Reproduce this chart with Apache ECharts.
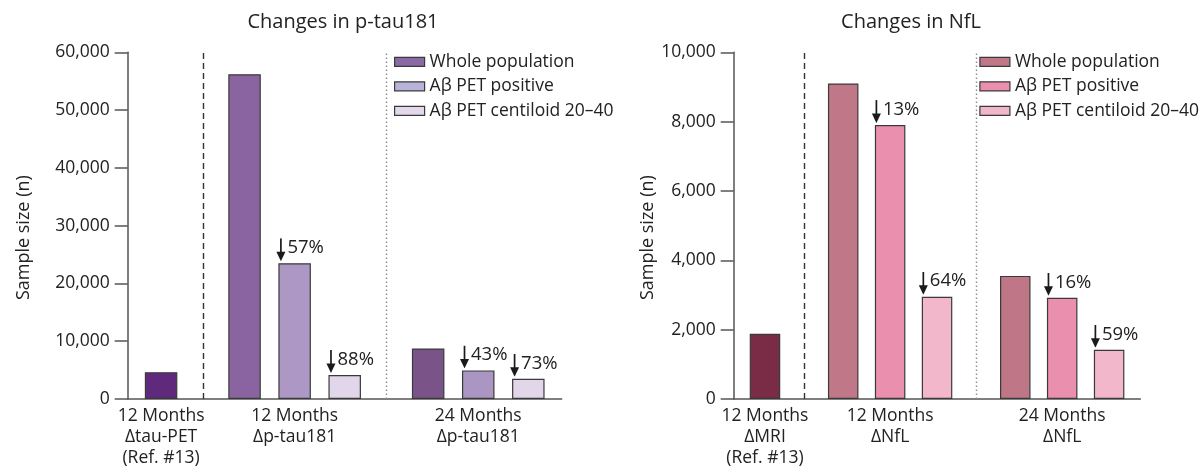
<!DOCTYPE html>
<html>
<head>
<meta charset="utf-8">
<script src="https://cdn.jsdelivr.net/npm/echarts/dist/echarts.min.js"></script>
<style>
html,body{margin:0;padding:0;background:#ffffff;}
#chart{width:1199px;height:472px;}
</style>
</head>
<body>
<div id="chart"></div>
<script>
// ---------------- data ----------------
const leftTitle = 'Changes in p-tau181';
const rightTitle = 'Changes in NfL';
const yAxisName = 'Sample size (n)';
const legendNames = ['Whole population', 'Aβ PET positive', 'Aβ PET centiloid 20–40'];

const leftGroupLabels = ['12 Months\nΔtau-PET\n(Ref. #13)', '12 Months\nΔp-tau181', '24 Months\nΔp-tau181'];
const leftReference = [4650];
const leftWhole = [56200, 8750];
const leftPositive = [23500, 4950];
const leftCentiloid = [4150, 3500];
const leftPositiveDrop = ['57%', '43%'];
const leftCentiloidDrop = ['88%', '73%'];
const leftAxisMax = 60000;
const leftAxisStep = 10000;

const rightGroupLabels = ['12 Months\nΔMRI\n(Ref. #13)', '12 Months\nΔNfL', '24 Months\nΔNfL'];
const rightReference = [1880];
const rightWhole = [9100, 3550];
const rightPositive = [7900, 2920];
const rightCentiloid = [2950, 1420];
const rightPositiveDrop = ['13%', '16%'];
const rightCentiloidDrop = ['64%', '59%'];
const rightAxisMax = 10000;
const rightAxisStep = 2000;

// ---------------- styling / layout ----------------
const FONT = "'Open Sans', 'Noto Sans', sans-serif";
const TEXT = '#222222';
const AXIS = '#555555';
const BORDER = '#3a3a3a';

const SLOT_COUNT = 27;          // fine category slots along each x axis
const REF_SLOT = 2;
const GROUP_SLOTS = [[7, 10, 13], [18, 21, 24]];
const LABEL_SLOTS = [2, 10, 21];
const SEP_NAMES = ['s4', 's15']; // on the half-offset helper axis

const leftStyle = {
  refColor: '#5f2a7c',
  wholeColors: ['#8a64a0', '#7a5489'],
  posColors: ['#ad98c5', '#ab96c3'],
  centColors: ['#e1d6ea', '#e1d6ea'],
  legendColors: ['#8a6aa6', '#b8b4d9', '#e4d8ec'],
  barWidth: 32.5
};
const rightStyle = {
  refColor: '#7a2b45',
  wholeColors: ['#c07889', '#bf7788'],
  posColors: ['#ea90ae', '#ea8fad'],
  centColors: ['#f2b7cb', '#f2b7cb'],
  legendColors: ['#c07888', '#ea8fae', '#f2b6cb'],
  barWidth: 30.5
};

const arrowUrl = 'data:image/svg+xml;charset=utf-8,' + encodeURIComponent(
  '<svg xmlns="http://www.w3.org/2000/svg" width="11" height="23" viewBox="0 0 11 23">' +
  '<line x1="5.5" y1="0" x2="5.5" y2="15" stroke="#1a1a1a" stroke-width="1.7"/>' +
  '<polygon points="1,13.5 10,13.5 5.5,23" fill="#1a1a1a"/></svg>');

function blank(n) { return Array.from({length: n}, () => '-'); }
function slotNames(prefix, n) { return Array.from({length: n}, (_, i) => prefix + i); }

function render(arrowImg) {
  const chart = echarts.init(document.getElementById('chart'), null, {renderer: 'canvas'});

  function dropLabel(text) {
    return {
      show: true, position: 'top', distance: 2, offset: [5, 0],
      formatter: '{a|}{t|' + text + '}',
      rich: {
        a: {width: 11, height: 23, backgroundColor: {image: arrowImg}},
        t: {fontFamily: FONT, fontSize: 18.5, color: TEXT, verticalAlign: 'top', lineHeight: 21, padding: [0, 0, 0, 1]}
      }
    };
  }

  function panelSeries(idx, st, reference, whole, positive, centiloid, posDrop, centDrop) {
    const xMain = idx * 2, xSep = idx * 2 + 1;
    const common = {
      type: 'bar', xAxisIndex: xMain, yAxisIndex: idx, barWidth: st.barWidth, barGap: '-100%',
      silent: true, animation: false
    };
    const ref = blank(SLOT_COUNT);
    ref[REF_SLOT] = {value: reference[0], itemStyle: {color: st.refColor}};
    const w = blank(SLOT_COUNT), p = blank(SLOT_COUNT), c = blank(SLOT_COUNT);
    GROUP_SLOTS.forEach((slots, g) => {
      w[slots[0]] = {value: whole[g], itemStyle: {color: st.wholeColors[g]}};
      p[slots[1]] = {value: positive[g], itemStyle: {color: st.posColors[g]}, label: dropLabel(posDrop[g])};
      c[slots[2]] = {value: centiloid[g], itemStyle: {color: st.centColors[g]}, label: dropLabel(centDrop[g])};
    });
    return [
      Object.assign({}, common, {name: 'reference' + idx, data: ref, itemStyle: {color: st.refColor, borderColor: BORDER, borderWidth: 1.2}}),
      Object.assign({}, common, {name: legendNames[0], data: w, itemStyle: {color: st.legendColors[0], borderColor: BORDER, borderWidth: 1.2}}),
      Object.assign({}, common, {name: legendNames[1], data: p, itemStyle: {color: st.legendColors[1], borderColor: BORDER, borderWidth: 1.2}}),
      Object.assign({}, common, {name: legendNames[2], data: c, itemStyle: {color: st.legendColors[2], borderColor: BORDER, borderWidth: 1.2}}),
      {
        type: 'line', name: 'sep' + idx, xAxisIndex: xSep, yAxisIndex: idx, data: blank(SLOT_COUNT - 1),
        silent: true, animation: false, showSymbol: false,
        markLine: {
          silent: true, animation: false, symbol: ['none', 'none'], label: {show: false},
          data: [
            {xAxis: SEP_NAMES[0], lineStyle: {type: [6, 4], color: '#333333', width: 1.4}},
            {xAxis: SEP_NAMES[1], lineStyle: {type: [1.5, 2.5], color: '#8c8c8c', width: 1.4}}
          ]
        }
      }
    ];
  }

  function mainX(gridIndex, labels) {
    return {
      gridIndex, type: 'category', boundaryGap: false, data: slotNames('c', SLOT_COUNT),
      axisLine: {show: true, lineStyle: {color: AXIS, width: 1.5}},
      axisTick: {show: false},
      splitLine: {show: false},
      axisLabel: {
        interval: 0, margin: 7, fontFamily: FONT, fontSize: 17.5, color: TEXT, lineHeight: 21,
        formatter: (v, i) => { const k = LABEL_SLOTS.indexOf(i); return k >= 0 ? labels[k] : ''; }
      }
    };
  }
  function sepX(gridIndex) {
    return {gridIndex, type: 'category', boundaryGap: true, position: 'top', show: false,
            data: slotNames('s', SLOT_COUNT - 1)};
  }
  function yAx(gridIndex, max, step, gap) {
    return {
      gridIndex, type: 'value', min: 0, max, interval: step,
      axisLine: {show: true, lineStyle: {color: AXIS, width: 1.5}},
      axisTick: {show: true, length: 13, lineStyle: {color: AXIS, width: 1.5}},
      splitLine: {show: false},
      axisLabel: {margin: 18, fontFamily: FONT, fontSize: 17.5, color: TEXT,
                  formatter: v => v.toLocaleString('en-US')},
      name: yAxisName, nameLocation: 'middle', nameGap: gap,
      nameTextStyle: {fontFamily: FONT, fontSize: 18, color: TEXT, padding: [0, 24, 0, 0]}
    };
  }
  function legendAt(left, colors) {
    return {
      left, top: 52.8, orient: 'vertical', padding: 0, itemWidth: 30, itemHeight: 9, itemGap: 6.5,
      icon: 'rect', selectedMode: false,
      textStyle: {fontFamily: FONT, fontSize: 17.5, color: TEXT, lineHeight: 17},
      itemStyle: {borderColor: BORDER, borderWidth: 1.2},
      data: legendNames.map((n, i) => ({name: n, itemStyle: {color: colors[i], borderColor: BORDER, borderWidth: 1.2}}))
    };
  }

  const option = {
    backgroundColor: '#ffffff',
    animation: false,
    title: [
      {text: leftTitle, left: 343, top: 12, textAlign: 'center', padding: 0,
       textStyle: {fontFamily: FONT, fontSize: 20, fontWeight: 'normal', color: TEXT}},
      {text: rightTitle, left: 911, top: 12, textAlign: 'center', padding: 0,
       textStyle: {fontFamily: FONT, fontSize: 20, fontWeight: 'normal', color: TEXT}}
    ],
    legend: [legendAt(394, leftStyle.legendColors), legendAt(979.3, rightStyle.legendColors)],
    grid: [
      {left: 127.7, top: 52.3, width: 434, height: 346.7, containLabel: false},
      {left: 733.7, top: 52.3, width: 406.7, height: 346.7, containLabel: false}
    ],
    xAxis: [mainX(0, leftGroupLabels), sepX(0), mainX(1, rightGroupLabels), sepX(1)],
    yAxis: [yAx(0, leftAxisMax, leftAxisStep, 95), yAx(1, rightAxisMax, rightAxisStep, 77)],
    series: [].concat(
      panelSeries(0, leftStyle, leftReference, leftWhole, leftPositive, leftCentiloid, leftPositiveDrop, leftCentiloidDrop),
      panelSeries(1, rightStyle, rightReference, rightWhole, rightPositive, rightCentiloid, rightPositiveDrop, rightCentiloidDrop)
    )
  };
  chart.setOption(option);
}

const arrowImage = new Image();
let rendered = false;
function go() { if (!rendered) { rendered = true; render(arrowImage); } }
arrowImage.onload = go;
arrowImage.onerror = go;
arrowImage.src = arrowUrl;
if (arrowImage.complete) go();
</script>
</body>
</html>
